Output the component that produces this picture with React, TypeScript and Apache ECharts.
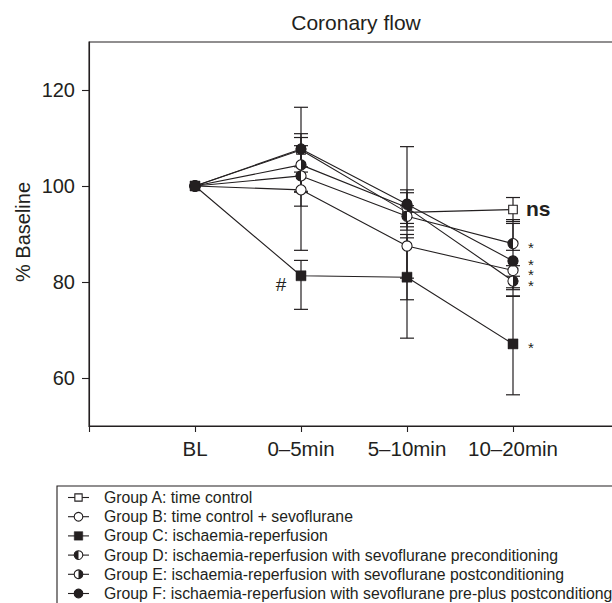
import { useEffect, useRef } from "react";
import * as echarts from "echarts";

// ---------- data ----------
const categories = ["BL", "0–5min", "5–10min", "10–20min"];
const yTickValues = [60, 80, 100, 120];
const title = "Coronary flow";
const yName = "% Baseline";

const groupNames = [
  "Group A: time control",
  "Group B: time control + sevoflurane",
  "Group C: ischaemia-reperfusion",
  "Group D: ischaemia-reperfusion with sevoflurane preconditioning",
  "Group E: ischaemia-reperfusion with sevoflurane postconditioning",
  "Group F: ischaemia-reperfusion with sevoflurane pre-plus postconditiong",
];
const groupMarkers = ["openSquare", "openCircle", "filledSquare", "leftHalf", "rightHalf", "filledCircle"];

// means (% baseline) at BL, 0–5, 5–10, 10–20 min
const groupA = [100, 107.5, 94.5, 95.1];
const groupB = [100, 99.2, 87.5, 82.4];
const groupC = [100, 81.3, 81.0, 67.1];
const groupD = [100, 102.1, 93.7, 88.0];
const groupE = [100, 104.4, 95.5, 80.2];
const groupF = [100, 107.7, 96.2, 84.4];

// error-bar ends (null = none)
const groupALow = [null, 104.0, 80.8, 92.6];
const groupAHigh = [null, 110.9, 108.2, 97.6];
const groupBLow = [null, 86.6, 76.3, 78.4];
const groupBHigh = [null, 102.9, 89.2, 83.4];
const groupCLow = [null, 74.3, 68.3, 56.5];
const groupCHigh = [null, 84.5, 89.9, 77.1];
const groupDLow = [null, 95.8, 91.5, 86.6];
const groupDHigh = [null, 108.4, 95.9, 93.0];
const groupELow = [null, 98.7, 90.8, 78.8];
const groupEHigh = [null, 110.1, 98.6, 81.2];
const groupFLow = [null, 98.9, 92.2, 77.0];
const groupFHigh = [null, 116.4, 99.2, 92.2];

// annotations
const notesA = ["", "", "", "ns"];
const notesB = ["", "", "", "*"];
const notesC = ["", "#", "", "*"];
const notesD = ["", "", "", "*"];
const notesE = ["", "", "", "*"];
const notesF = ["", "", "", "*"];

// ---------- drawing helpers ----------
const INK = "#231f20";
const FONT = "'Liberation Sans', Arial, Helvetica, sans-serif";

function markerShapes(kind: string, cx: number, cy: number, scale = 1): any[] {
  const r = 5.1 * scale;
  const lw = 1.1;
  const hs = 4.3 * scale;
  const fs = 5 * scale;
  switch (kind) {
    case "openSquare":
      return [{ type: "rect", shape: { x: cx - hs, y: cy - hs, width: hs * 2, height: hs * 2 }, style: { fill: "#fff", stroke: INK, lineWidth: lw } }];
    case "filledSquare":
      return [{ type: "rect", shape: { x: cx - fs, y: cy - fs, width: fs * 2, height: fs * 2 }, style: { fill: INK, stroke: INK, lineWidth: 0.5 } }];
    case "openCircle":
      return [{ type: "circle", shape: { cx, cy, r }, style: { fill: "#fff", stroke: INK, lineWidth: lw } }];
    case "filledCircle":
      return [{ type: "circle", shape: { cx, cy, r }, style: { fill: INK, stroke: INK, lineWidth: lw } }];
    case "leftHalf":
      return [
        { type: "circle", shape: { cx, cy, r }, style: { fill: "#fff", stroke: INK, lineWidth: lw } },
        { type: "sector", shape: { cx, cy, r0: 0, r, startAngle: Math.PI / 2, endAngle: Math.PI * 1.5, clockwise: true }, style: { fill: INK } },
      ];
    case "rightHalf":
      return [
        { type: "circle", shape: { cx, cy, r }, style: { fill: "#fff", stroke: INK, lineWidth: lw } },
        { type: "sector", shape: { cx, cy, r0: 0, r, startAngle: -Math.PI / 2, endAngle: Math.PI / 2, clockwise: true }, style: { fill: INK } },
      ];
  }
  return [];
}

function noteElement(note: string, cx: number, cy: number): any {
  if (note === "#") {
    return { type: "text", x: cx - 20, y: cy + 9, style: { text: note, fill: INK, fontSize: 19, fontFamily: FONT, align: "center", verticalAlign: "middle" } };
  }
  if (note === "ns") {
    return { type: "text", x: cx + 13, y: cy - 1, style: { text: note, fill: INK, fontSize: 21, fontWeight: "bold", fontFamily: FONT, align: "left", verticalAlign: "middle" } };
  }
  return { type: "text", x: cx + 18, y: cy + 4, style: { text: note, fill: INK, fontSize: 15, lineHeight: 8, fontFamily: FONT, align: "center", verticalAlign: "middle" } };
}

function lineSeries(values: number[]) {
  return {
    type: "line",
    z: 2,
    data: values.map((v, i) => [i, v]),
    symbol: "none",
    lineStyle: { color: INK, width: 1.1 },
    silent: true,
  };
}

function errorSeries(lo: (number | null)[], hi: (number | null)[]) {
  const data: number[][] = [];
  lo.forEach((l, i) => {
    const h = hi[i];
    if (l != null && h != null) data.push([i, l, h]);
  });
  return {
    type: "custom",
    z: 3,
    data,
    encode: { x: 0, y: [1, 2] },
    renderItem: (_params: any, api: any) => {
      const x = api.value(0);
      const p1 = api.coord([x, api.value(1)]);
      const p2 = api.coord([x, api.value(2)]);
      const cw = 7;
      const st = { stroke: INK, lineWidth: 1.2 };
      return {
        type: "group",
        children: [
          { type: "line", shape: { x1: p1[0], y1: p1[1], x2: p2[0], y2: p2[1] }, style: st },
          { type: "line", shape: { x1: p1[0] - cw, y1: p1[1], x2: p1[0] + cw, y2: p1[1] }, style: st },
          { type: "line", shape: { x1: p2[0] - cw, y1: p2[1], x2: p2[0] + cw, y2: p2[1] }, style: st },
        ],
      };
    },
  };
}

function markerSeries(kind: string, values: number[], notes: string[]) {
  return {
    type: "custom",
    z: 5,
    data: values.map((v, i) => [i, v]),
    encode: { x: 0, y: 1 },
    renderItem: (params: any, api: any) => {
      const p = api.coord([api.value(0), api.value(1)]);
      const children = markerShapes(kind, p[0], p[1]);
      const note = notes[params.dataIndex];
      if (note) children.push(noteElement(note, p[0], p[1]));
      return { type: "group", children };
    },
  };
}

function legendGraphics(): any[] {
  const left = 57;
  const top = 486;
  const rowH = 19.2;
  const els: any[] = [
    { type: "rect", shape: { x: left, y: top, width: 640, height: 160 }, style: { fill: "none", stroke: INK, lineWidth: 1.1 } },
  ];
  groupNames.forEach((name, i) => {
    const y = top + 11.5 + i * rowH;
    els.push({ type: "line", shape: { x1: 68, y1: y, x2: 89, y2: y }, style: { stroke: INK, lineWidth: 1.1 } });
    markerShapes(groupMarkers[i], 78.5, y, 0.85).forEach((s) => els.push(s));
    els.push({ type: "text", x: 104, y, style: { text: name, fill: INK, fontSize: 15.8, fontFamily: FONT, align: "left", verticalAlign: "middle" } });
  });
  return els;
}

export default function App() {
  const ref = useRef<HTMLDivElement>(null);
  useEffect(() => {
    if (!ref.current) return;
    const chart = echarts.init(ref.current, undefined, { renderer: "svg" });
    const means = [groupA, groupB, groupC, groupD, groupE, groupF];
    const lows = [groupALow, groupBLow, groupCLow, groupDLow, groupELow, groupFLow];
    const highs = [groupAHigh, groupBHigh, groupCHigh, groupDHigh, groupEHigh, groupFHigh];
    const notes = [notesA, notesB, notesC, notesD, notesE, notesF];
    // drawing order of markers: A, B, E, D, F, C
    const order = [0, 1, 4, 3, 5, 2];
    const series: any[] = [];
    means.forEach((m) => series.push(lineSeries(m)));
    lows.forEach((l, i) => series.push(errorSeries(l, highs[i])));
    order.forEach((g) => series.push(markerSeries(groupMarkers[g], means[g], notes[g])));

    chart.setOption({
      animation: false,
      backgroundColor: "#fff",
      textStyle: { fontFamily: FONT, color: INK },
      grid: { left: 89, top: 42, right: 28, bottom: 177, show: true, borderColor: INK, borderWidth: 1.1, backgroundColor: "transparent" },
      xAxis: {
        type: "value",
        min: -1,
        max: 4.5,
        interval: 1,
        axisLine: { show: true, onZero: false, lineStyle: { color: INK, width: 1.1 } },
        axisTick: { show: true, length: 6, inside: false, lineStyle: { color: INK, width: 1.1 }, customValues: [-1, 0, 1, 2, 3] },
        axisLabel: {
          show: true,
          customValues: [0, 1, 2, 3],
          formatter: (v: number) => categories[Math.round(v)] ?? "",
          fontSize: 20.5,
          color: INK,
          fontFamily: FONT,
          margin: 12,
        },
        splitLine: { show: false },
      },
      yAxis: {
        type: "value",
        min: 50,
        max: 130,
        axisLine: { show: true, onZero: false, lineStyle: { color: INK, width: 1.1 } },
        axisTick: { show: true, length: 7, inside: false, lineStyle: { color: INK, width: 1.1 }, customValues: yTickValues },
        axisLabel: { show: true, customValues: yTickValues, fontSize: 20, color: INK, fontFamily: FONT, margin: 14 },
        splitLine: { show: false },
      },
      graphic: [
        { type: "text", x: 356, y: 22, style: { text: title, fill: INK, fontSize: 21, fontFamily: FONT, align: "center", verticalAlign: "middle" } },
        { type: "text", x: 23, y: 232, rotation: Math.PI / 2, style: { text: yName, fill: INK, fontSize: 20, fontFamily: FONT, align: "center", verticalAlign: "middle" } },
        ...legendGraphics(),
      ],
      series,
    });
    return () => chart.dispose();
  }, []);
  return <div ref={ref} style={{ position: "fixed", left: 0, top: 0, width: 700, height: 603 }} />;
}
